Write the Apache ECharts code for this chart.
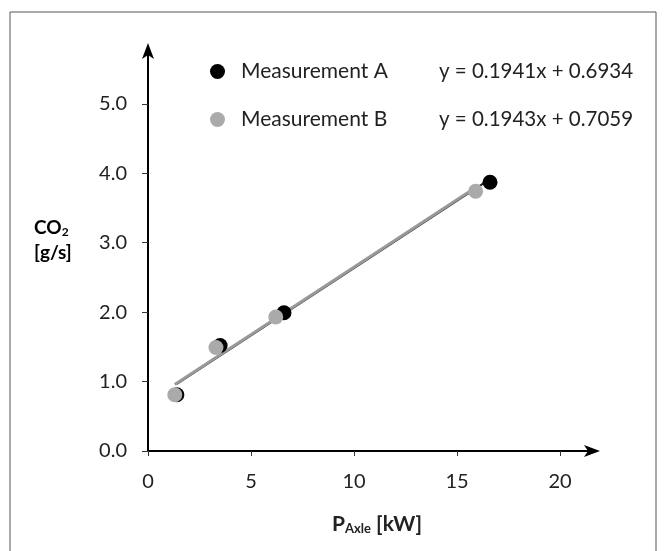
<!DOCTYPE html>
<html>
<head>
<meta charset="utf-8">
<script src="https://cdn.jsdelivr.net/npm/echarts@6/dist/echarts.min.js"></script>
<style>
html, body { margin: 0; padding: 0; background: #fff; }
#chart { width: 664px; height: 551px; }
</style>
</head>
<body>
<div id="chart"></div>
<script>
// measured points [P_Axle kW, CO2 g/s]
var seriesNames = ['Measurement A', 'Measurement B'];
var pointsA = [[1.4, 0.81], [3.5, 1.52], [6.6, 1.99], [16.6, 3.87]];
var pointsB = [[1.3, 0.81], [3.3, 1.49], [6.2, 1.93], [15.9, 3.74]];
// linear fit coefficients as printed on the chart
var slopes = [0.1941, 0.1943];
var intercepts = [0.6934, 0.7059];
var xTicks = [0, 5, 10, 15, 20];
var yTicks = [0, 1, 2, 3, 4, 5];

var font = 'Lato';

function fitLine(points, k) {
    var xs = points.map(function (p) { return p[0]; });
    var x0 = Math.min.apply(null, xs);
    var x1 = Math.max.apply(null, xs);
    return [[x0, slopes[k] * x0 + intercepts[k]], [x1, slopes[k] * x1 + intercepts[k]]];
}

function eqText(k) {
    return 'y = ' + slopes[k].toFixed(4) + 'x + ' + intercepts[k].toFixed(4);
}

var myChart = echarts.init(document.getElementById('chart'));

var option = {
    animation: false,
    textStyle: { fontFamily: font },
    grid: {
        left: 148,
        right: 72,
        top: 51,
        bottom: 100
    },
    legend: {
        data: seriesNames,
        orient: 'vertical',
        left: 205,
        top: 56,
        itemGap: 27,
        itemWidth: 15,
        itemHeight: 15,
        icon: 'circle',
        formatter: function (name) {
            var k = seriesNames.indexOf(name);
            return '{n|' + name + '}{e|' + eqText(k) + '}';
        },
        textStyle: {
            rich: {
                n: { fontFamily: font, fontSize: 21, color: '#222', width: 198, padding: [0, 0, 0, 11] },
                e: { fontFamily: font, fontSize: 20.5, color: '#222' }
            }
        }
    },
    xAxis: {
        type: 'value',
        min: 0,
        max: 21.55,
        name: '{p|P}{s|Axle}{p| [kW]}',
        nameLocation: 'middle',
        nameGap: 62,
        nameTextStyle: {
            padding: [0, 0, 0, 14],
            rich: {
                p: { fontFamily: font, fontSize: 21, fontWeight: 'bold', color: '#222' },
                s: { fontFamily: font, fontSize: 13, fontWeight: 'bold', color: '#222', padding: [9, 0, 0, 0] }
            }
        },
        axisLine: {
            lineStyle: { color: '#000', width: 2 },
            symbol: ['none', 'arrow'],
            symbolSize: [9, 16],
            symbolOffset: [0, 8]
        },
        axisTick: { customValues: xTicks, length: 5, lineStyle: { color: '#333' } },
        axisLabel: {
            customValues: xTicks,
            margin: 21,
            fontSize: 20,
            color: '#222'
        },
        splitLine: { show: false }
    },
    yAxis: {
        type: 'value',
        min: 0,
        max: 5.76,
        axisLine: {
            show: true,
            lineStyle: { color: '#000', width: 2 },
            symbol: ['none', 'arrow'],
            symbolSize: [9, 16],
            symbolOffset: [0, 8]
        },
        axisTick: { show: true, customValues: yTicks, length: 6, lineStyle: { color: '#333' } },
        axisLabel: {
            customValues: yTicks,
            margin: 21,
            fontSize: 20,
            color: '#222',
            formatter: function (v) { return v.toFixed(1); }
        },
        splitLine: { show: false }
    },
    graphic: [{
        type: 'rect',
        shape: { x: 10, y: 12, width: 646, height: 560 },
        style: { fill: 'none', stroke: '#555', lineWidth: 1 },
        silent: true
    }, {
        type: 'text',
        left: 34,
        top: 218,
        style: {
            text: '{c|CO}{s|2}\n{c|[g/s]}',
            align: 'center',
            rich: {
                c: { fontFamily: font, fontSize: 19, fontWeight: 'bold', color: '#222', lineHeight: 25 },
                s: { fontFamily: font, fontSize: 12, fontWeight: 'bold', color: '#222', padding: [9, 0, 0, 0] }
            }
        }
    }],
    series: [{
        name: 'fit A',
        type: 'line',
        data: fitLine(pointsA, 0),
        symbol: 'none',
        lineStyle: { color: '#222', width: 2 },
        z: 1
    }, {
        name: 'fit B',
        type: 'line',
        data: fitLine(pointsB, 1),
        symbol: 'none',
        lineStyle: { color: '#999', width: 3 },
        z: 2
    }, {
        name: seriesNames[0],
        type: 'scatter',
        data: pointsA,
        symbolSize: 15,
        itemStyle: { color: '#000', opacity: 1 },
        z: 3
    }, {
        name: seriesNames[1],
        type: 'scatter',
        data: pointsB,
        symbolSize: 15,
        itemStyle: { color: '#aaa', opacity: 1 },
        z: 4
    }]
};
myChart.setOption(option);
</script>
</body>
</html>
